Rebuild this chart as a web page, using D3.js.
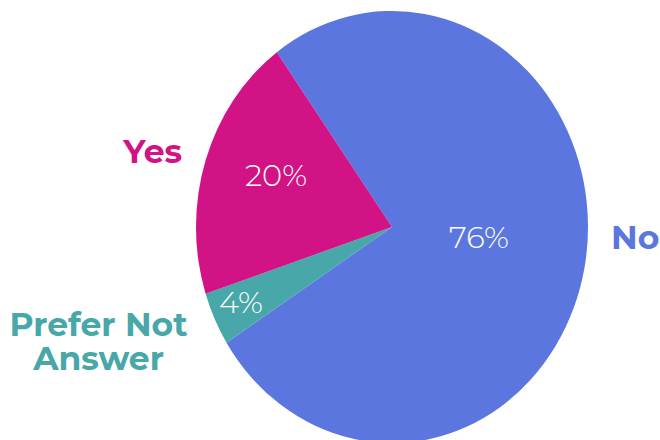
<!DOCTYPE html>
<html>
<head>
<meta charset="utf-8">
<script src="https://cdn.jsdelivr.net/npm/d3@7/dist/d3.min.js"></script>
<style>
  html, body { margin: 0; padding: 0; background: #ffffff; }
  svg { display: block; }
</style>
</head>
<body>
<svg id="chart" width="660" height="440"></svg>
<script>
// Survey answers, in clockwise order starting from the upper left
const categories = ["No", "Prefer Not Answer", "Yes"];
const values = [76, 4, 20];
const percentLabels = ["76%", "4%", "20%"];
const colors = ["#5b77df", "#48a7a9", "#d11385"];

const width = 660, height = 440;
const cx = 392, cy = 227;
const rx = 196, ry = 216;           // the pie is drawn slightly taller than wide
const startDeg = -36;

const svg = d3.select("#chart");

const pie = d3.pie()
  .sort(null)
  .value(d => d.value)
  .startAngle(startDeg * Math.PI / 180)
  .endAngle((startDeg + 360) * Math.PI / 180);

const data = categories.map((c, i) => ({ name: c, value: values[i], label: percentLabels[i], color: colors[i] }));
const arcs = pie(data);

const arc = d3.arc().innerRadius(0).outerRadius(rx);

const g = svg.append("g")
  .attr("transform", `translate(${cx},${cy}) scale(1,${ry / rx})`);

g.selectAll("path.slice")
  .data(arcs)
  .join("path")
  .attr("class", "slice")
  .attr("d", arc)
  .attr("fill", d => d.data.color);

// Percentage labels sit inside each slice: a fraction of the radius along
// the slice's mid-angle, nudged by a few degrees where the slice is wide
const labelPlace = {
  "No": { frac: 0.446, turn: -4.9 },
  "Prefer Not Answer": { frac: 0.845, turn: 0.9 },
  "Yes": { frac: 0.639, turn: 4.2 }
};
const labelAngle = d => (d.startAngle + d.endAngle) / 2 + labelPlace[d.data.name].turn * Math.PI / 180;
const pctFont = "Montserrat, 'Noto Sans', 'Open Sans', sans-serif";

svg.selectAll("text.pct")
  .data(arcs)
  .join("text")
  .attr("class", "pct")
  .attr("x", d => cx + Math.sin(labelAngle(d)) * rx * labelPlace[d.data.name].frac)
  .attr("y", d => cy - Math.cos(labelAngle(d)) * ry * labelPlace[d.data.name].frac)
  .attr("dy", "0.35em")
  .attr("text-anchor", "middle")
  .attr("fill", "#ffffff")
  .attr("font-family", pctFont)
  .attr("font-weight", 300)
  .attr("font-size", 30.5)
  .text(d => d.data.label);

// Category names outside the pie
const nameFont = "Montserrat, 'Open Sans', 'Noto Sans', sans-serif";
const names = [
  { lines: ["Yes"], x: 182, y: 162.5, anchor: "end", color: colors[2] },
  { lines: ["No"], x: 611, y: 248.5, anchor: "start", color: colors[0] },
  { lines: ["Prefer Not", "Answer"], x: 98.5, y: 336, anchor: "middle", color: colors[1] }
];

names.forEach(n => {
  const t = svg.append("text")
    .attr("x", n.x)
    .attr("y", n.y)
    .attr("text-anchor", n.anchor)
    .attr("fill", n.color)
    .attr("font-family", nameFont)
    .attr("font-weight", 700)
    .attr("font-size", 33);
  n.lines.forEach((line, i) => {
    t.append("tspan")
      .attr("x", n.x)
      .attr("dy", i === 0 ? 0 : 34)
      .text(line);
  });
});
</script>
</body>
</html>
